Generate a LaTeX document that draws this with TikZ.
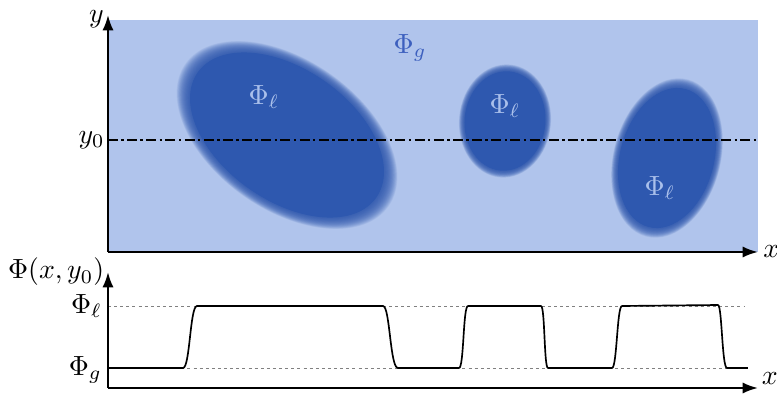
\documentclass[tikz,border=0pt]{standalone}
\usetikzlibrary{arrows.meta}

\definecolor{bgblue}{RGB}{176,196,236}
\definecolor{dropblue}{RGB}{46,88,175}
\definecolor{gaslabel}{RGB}{60,95,190}
\definecolor{liqlabel}{RGB}{170,192,235}

\begin{document}
\begin{tikzpicture}[
        x=0.36pt, y=-0.36pt,
        axis/.style={thick, -{Latex[length=5.5pt,width=4pt]}},
        level/.style={gray, very thin, dash pattern=on 1.1pt off 1.1pt},
        profile/.style={semithick, line join=round},
        liq/.style={text=liqlabel}
    ]
    \useasboundingbox (0,0) rectangle (777,396);

    % domain
    \fill[bgblue] (108,20) rectangle (758,252);

    % droplets with soft edges
    \foreach \cx/\cy/\rx/\ry/\ang in {287/135/116/70/-35, 505/121/43/53/-5, 667/158/50/76/-15} {
        \foreach \s in {1.07,1.065,...,0.94}
            \fill[dropblue, opacity=0.07] (\cx,\cy) ellipse[x radius=\s*\rx, y radius=\s*\ry, rotate=\ang];
        \fill[dropblue] (\cx,\cy) ellipse[x radius=0.94*\rx, y radius=0.94*\ry, rotate=\ang];
    }

    \node[text=gaslabel] (phig) at (410,48) {$\Phi_g$};
    \node[liq] (liqA) at (264,97) {$\Phi_\ell$};
    \node[liq] (liqB) at (505,106) {$\Phi_\ell$};
    \node[liq] (liqC) at (660,188) {$\Phi_\ell$};

    % section line
    \coordinate (cutL) at (108,140);
    \coordinate (cutR) at (758,140);
    \draw[thick, dash pattern=on 3.6pt off 1.2pt on 0.9pt off 1.2pt] (cutL) -- (cutR);
    \node[left, inner sep=1pt] (yzero) at (cutL) {$y_0$};

    % axes of the domain
    \coordinate (O) at (108,252);
    \draw[axis] (O) -- (758,252) node[right, inner sep=1.5pt] (xa) {$x$};
    \draw[axis] (O) -- (108,15);
    \node[left, inner sep=1pt] (ya) at (107,19) {$y$};

    % profile along y0
    \coordinate (P) at (108,388);
    \draw[level] (108,306) -- (745,306);
    \draw[level] (108,368) -- (745,368);
    \node[left, inner sep=2pt] (lvlL) at (108,306) {$\Phi_\ell$};
    \node[left, inner sep=2pt] (lvlG) at (108,370) {$\Phi_g$};
    \draw[axis] (P) -- (758,388) node[above right, inner sep=1pt] (xb) {$x$};
    \draw[axis] (P) -- (108,272) node[left, inner sep=1pt] (phib) {$\Phi(x,y_0)$};

    \draw[profile] (108,368) -- (183,368)
        .. controls (190,368) and (190,306) .. (197,306) -- (383,306)
        .. controls (390,306) and (390,368) .. (398,368) -- (459,368)
        .. controls (464,368) and (463,306) .. (468,306) -- (541,306)
        .. controls (545,306) and (544,368) .. (548,368) -- (612,368)
        .. controls (617,368) and (617,306) .. (622,306) -- (718,305)
        .. controls (722,305) and (722,368) .. (727,368) -- (748,368);
\end{tikzpicture}
\end{document}
